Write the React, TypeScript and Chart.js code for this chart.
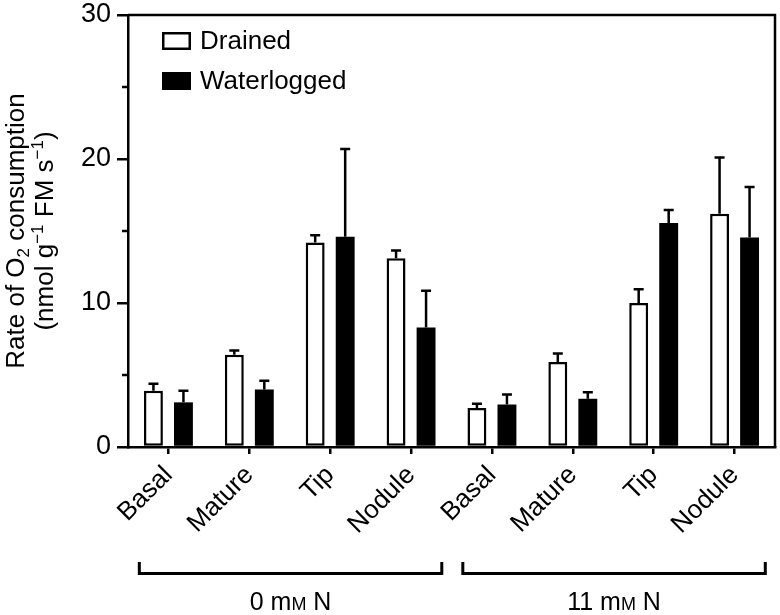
import React, { useEffect, useRef } from "react";
import { Chart, registerables } from "chart.js";

Chart.register(...registerables);

const FONT = '"Liberation Sans", Arial, Helvetica, sans-serif';

const categories = ["Basal", "Mature", "Tip", "Nodule", "Basal", "Mature", "Tip", "Nodule"];
const drained = [3.9, 6.4, 14.2, 13.1, 2.7, 5.9, 10.0, 16.2];
const drainedErr = [0.5, 0.3, 0.5, 0.55, 0.3, 0.6, 0.95, 3.9];
const waterlogged = [3.1, 4.0, 14.6, 8.3, 2.95, 3.35, 15.55, 14.55];
const waterloggedErr = [0.8, 0.6, 6.1, 2.55, 0.7, 0.45, 0.9, 3.5];
const seriesNames = ["Drained", "Waterlogged"];
const yMajorTicks = [0, 10, 20, 30];
const yMinorTicks = [5, 15, 25];
const groupNumbers = ["0", "11"];
const groupRanges = [
  [0, 3],
  [4, 7],
];

type Part = { t: string; size: number; dy: number };

function drawRich(ctx: CanvasRenderingContext2D, parts: Part[], x: number, y: number) {
  const widths = parts.map((p) => {
    ctx.font = `${p.size}px ${FONT}`;
    return ctx.measureText(p.t).width;
  });
  const total = widths.reduce((a, b) => a + b, 0);
  let cx = x - total / 2;
  parts.forEach((p, i) => {
    ctx.font = `${p.size}px ${FONT}`;
    ctx.fillText(p.t, cx, y + p.dy);
    cx += widths[i];
  });
}

const errorBarPlugin = {
  id: "errorBars",
  afterDatasetsDraw(chart: any) {
    const ctx = chart.ctx as CanvasRenderingContext2D;
    const yScale = chart.scales.y;
    const errs = [drainedErr, waterloggedErr];
    ctx.save();
    ctx.strokeStyle = "#000";
    ctx.lineWidth = 2.5;
    ctx.lineCap = "butt";
    chart.data.datasets.forEach((ds: any, di: number) => {
      const meta = chart.getDatasetMeta(di);
      meta.data.forEach((bar: any, i: number) => {
        const v = ds.data[i];
        const top = yScale.getPixelForValue(v + errs[di][i]);
        const x = bar.x;
        ctx.beginPath();
        ctx.moveTo(x, bar.y);
        ctx.lineTo(x, top);
        ctx.moveTo(x - 5, top);
        ctx.lineTo(x + 5, top);
        ctx.stroke();
      });
    });
    ctx.restore();
  },
};

const decorPlugin = {
  id: "decor",
  afterDraw(chart: any) {
    const ctx = chart.ctx as CanvasRenderingContext2D;
    const area = chart.chartArea;
    const x = chart.scales.x;
    const y = chart.scales.y;
    ctx.save();
    ctx.strokeStyle = "#000";
    ctx.fillStyle = "#000";
    ctx.lineWidth = 2.5;

    // frame top & right
    ctx.beginPath();
    ctx.moveTo(area.left, area.top);
    ctx.lineTo(area.right, area.top);
    ctx.lineTo(area.right, area.bottom);
    ctx.stroke();

    // minor y ticks
    ctx.beginPath();
    yMinorTicks.forEach((v) => {
      const py = y.getPixelForValue(v);
      ctx.moveTo(area.left - 6, py);
      ctx.lineTo(area.left, py);
    });
    ctx.stroke();

    // legend
    const lx = area.left + 34;
    const boxes = [area.top + 17, area.top + 57];
    ctx.textBaseline = "middle";
    ctx.textAlign = "left";
    seriesNames.forEach((name, i) => {
      const by = boxes[i];
      if (i === 0) {
        ctx.fillStyle = "#fff";
        ctx.fillRect(lx, by, 29, 18);
        ctx.strokeRect(lx + 1.25, by + 1.25, 26.5, 15.5);
      } else {
        ctx.fillStyle = "#000";
        ctx.fillRect(lx, by, 29, 18);
      }
      ctx.fillStyle = "#000";
      ctx.font = `26px ${FONT}`;
      ctx.fillText(name, lx + 38, by + 10);
    });

    // y axis title
    ctx.textAlign = "left";
    ctx.textBaseline = "alphabetic";
    const cy = (area.top + area.bottom) / 2;
    ctx.save();
    ctx.translate(24, cy);
    ctx.rotate(-Math.PI / 2);
    drawRich(
      ctx,
      [
        { t: "Rate of O", size: 26, dy: 0 },
        { t: "2", size: 17, dy: 5 },
        { t: " consumption", size: 26, dy: 0 },
      ],
      0,
      0
    );
    ctx.restore();
    ctx.save();
    ctx.translate(53, cy);
    ctx.rotate(-Math.PI / 2);
    drawRich(
      ctx,
      [
        { t: "(nmol g", size: 26, dy: 0 },
        { t: "\u22121", size: 17, dy: -10 },
        { t: " FM s", size: 26, dy: 0 },
        { t: "\u22121", size: 17, dy: -10 },
        { t: ")", size: 26, dy: 0 },
      ],
      0,
      0
    );
    ctx.restore();

    // group brackets
    const step = x.getPixelForValue(1) - x.getPixelForValue(0);
    ctx.lineWidth = 3;
    groupRanges.forEach((r, gi) => {
      const x0 = x.getPixelForValue(r[0]) - step * 0.36;
      const x1 = x.getPixelForValue(r[1]) + step * 0.38;
      ctx.beginPath();
      ctx.moveTo(x0, 562);
      ctx.lineTo(x0, 573.5);
      ctx.lineTo(x1, 573.5);
      ctx.lineTo(x1, 562);
      ctx.stroke();
      const mid = (x0 + x1) / 2;
      drawRich(
        ctx,
        [
          { t: groupNumbers[gi] + " m", size: 25, dy: 0 },
          { t: "M", size: 18, dy: 0 },
          { t: " N", size: 25, dy: 0 },
        ],
        mid,
        610
      );
    });
    ctx.restore();
  },
};

export default function App() {
  const ref = useRef<HTMLCanvasElement | null>(null);
  useEffect(() => {
    document.body.style.margin = "0";
    const canvas = ref.current!;
    const chart = new Chart(canvas, {
      type: "bar",
      data: {
        labels: categories,
        datasets: [
          {
            label: seriesNames[0],
            data: drained,
            backgroundColor: "#fff",
            borderColor: "#000",
            borderWidth: 2.5,
            borderSkipped: false,
            categoryPercentage: 0.742,
            barPercentage: 0.63,
          },
          {
            label: seriesNames[1],
            data: waterlogged,
            backgroundColor: "#000",
            borderColor: "#000",
            borderWidth: 0,
            categoryPercentage: 0.742,
            barPercentage: 0.63,
          },
        ],
      },
      options: {
        responsive: false,
        animation: false,
        devicePixelRatio: 1,
        layout: { padding: { top: 15, right: 5, left: 0, bottom: 0 } },
        plugins: { legend: { display: false }, tooltip: { enabled: false } },
        scales: {
          x: {
            offset: true,
            grid: {
              display: true,
              drawOnChartArea: false,
              offset: false,
              tickLength: 7,
              lineWidth: 2.5,
              color: "#000",
            },
            border: { display: true, color: "#000", width: 2.5 },
            ticks: {
              color: "#000",
              font: { family: FONT, size: 26 },
              maxRotation: 45,
              minRotation: 45,
              padding: 6,
            },
            afterFit: (s: any) => {
              s.height = 168;
              s.paddingLeft = 0;
              s.paddingRight = 0;
            },
          },
          y: {
            min: 0,
            max: 30,
            afterBuildTicks: (s: any) => {
              s.ticks = yMajorTicks.map((v) => ({ value: v }));
            },
            grid: {
              display: true,
              drawOnChartArea: false,
              tickLength: 11,
              lineWidth: 2.5,
              color: "#000",
            },
            border: { display: true, color: "#000", width: 2.5 },
            ticks: {
              color: "#000",
              font: { family: FONT, size: 27 },
              padding: 6,
            },
            afterFit: (s: any) => {
              s.width = 128;
              s.paddingTop = 0;
              s.paddingBottom = 0;
            },
          },
        },
      },
      plugins: [errorBarPlugin, decorPlugin],
    });
    return () => chart.destroy();
  }, []);
  return <canvas ref={ref} width={780} height={615} style={{ display: "block" }} />;
}
